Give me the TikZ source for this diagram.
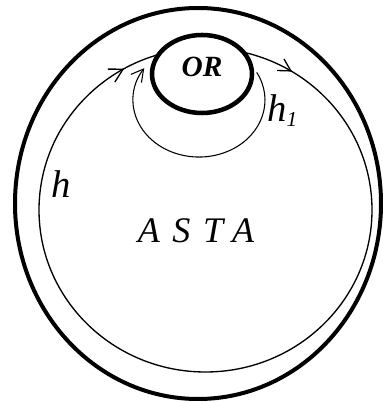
\documentclass[tikz,border=0pt]{standalone}
\usepackage{fontspec}
\setmainfont{Liberation Serif}
\usetikzlibrary{arrows.meta,shapes.geometric,decorations.markings}

\tikzset{
    wall/.style={line width=3pt},
    track/.style={line width=1pt},
    loopline/.style={line width=0.8pt},
    orcirc/.style={ellipse, draw, line width=3.4pt, fill=white, inner sep=0pt,
        minimum width=75pt, minimum height=58.5pt},
    lbl/.style={inner sep=0pt, font=\itshape},
}

\begin{document}
\begin{tikzpicture}[x=0.75pt,y=0.75pt]
    \useasboundingbox (0,0) rectangle (382,403);

    \coordinate (outer) at (198,199.5);
    \coordinate (hstart) at (39,193);
    \coordinate (lstart) at (256.7,330.6);

    % outer wall
    \draw [wall] (outer) ellipse [x radius=183, y radius=195.5];

    % path h, clockwise
    \draw [track, postaction={decorate},
        decoration={markings,
            mark=at position 0.168 with {\arrow[line width=1pt]{Straight Barb[length=10pt,width=11pt]}},
            mark=at position 0.338 with {\arrow[line width=1pt]{Straight Barb[length=9pt,width=10pt]}}}]
        (hstart) arc [start angle=180, end angle=-180, x radius=166.5, y radius=162];

    \node [orcirc] (or) at (202,329) {};
    \node [lbl, font=\bfseries\itshape\fontsize{22}{24}\selectfont] (ortext) at (202,336.5) {OR};

    % loop h_1
    \draw [loopline, -{Straight Barb[length=9pt,width=10pt]}] (lstart) arc [start angle=29, end angle=-214, x radius=66, y radius=57];

    \node [lbl, anchor=base west] (hone) at (267,281)
        {\fontsize{29}{30}\selectfont h\raisebox{-3.7pt}{\fontsize{16}{16}\selectfont 1}};
    \node [lbl, anchor=base west] (hlab) at (51,205) {\fontsize{29}{30}\selectfont h};
    \node [lbl, anchor=base] (asta) at (196,160) {\fontsize{27}{30}\selectfont A\hspace{0.35em}S\hspace{0.35em}T\hspace{0.25em}A};
\end{tikzpicture}
\end{document}
